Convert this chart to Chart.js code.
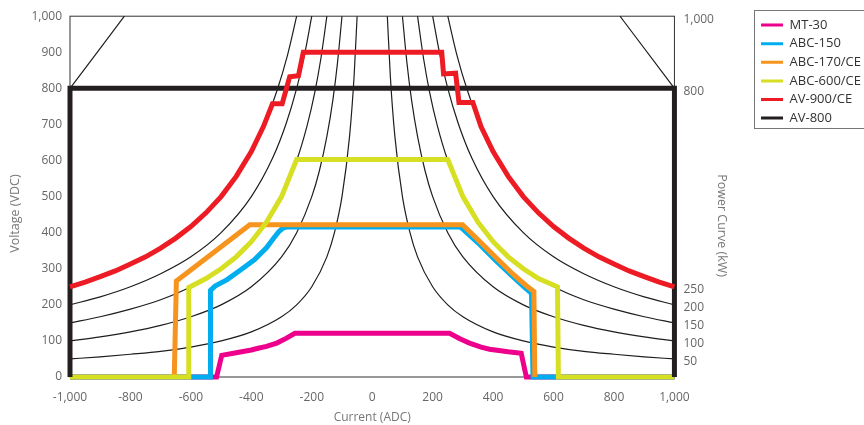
<!DOCTYPE html>
<html>
<head>
<meta charset="utf-8">
<script src="https://cdn.jsdelivr.net/npm/chart.js@4.4.1/dist/chart.umd.min.js"></script>
<style>
  html, body { margin: 0; padding: 0; background: #fff; overflow: hidden; }
  #wrap { width: 871px; height: 425px; }
</style>
</head>
<body>
<div id="wrap"><canvas id="chart"></canvas></div>
<script>
// tick labels
const currentTicks = [-1000, -800, -600, -400, -200, 0, 200, 400, 600, 800, 1000];
const voltageTicks = [0, 100, 200, 300, 400, 500, 600, 700, 800, 900, 1000];
const powerTicks = [50, 100, 150, 200, 250, 800, 1000];

const seriesNames = ['MT-30', 'ABC-150', 'ABC-170/CE', 'ABC-600/CE', 'AV-900/CE', 'AV-800'];

// operating envelopes, current (ADC) vs voltage (VDC)
const mt30Current = [-1000, -515, -498, -450, -400, -381, -350, -316, -285, -256, 256, 290, 322, 360, 388, 450, 493, 510, 1000];
const mt30Voltage = [0, 0, 60, 67, 75, 79, 85, 94, 107, 121, 121, 106, 94, 83, 77, 70, 66, 0, 0];

const abc150Current = [-1000, -535, -535, -520, -480, -430, -390, -350, -325, -308, -295, -280, 290, 300, 350, 405, 460, 505, 527, 532, 1000];
const abc150Voltage = [0, 0, 240, 252, 270, 300, 325, 358, 386, 404, 413, 416, 416, 410, 372, 326, 282, 248, 232, 0, 0];

const abc170Current = [-655, -648, -405, 299, 355, 411, 466, 510, 535, 538];
const abc170Voltage = [0, 266, 422, 422, 376, 330, 285, 253, 237, 0];

const abc600Current = [-1000, -607, -607, -550, -500, -450, -400, -350, -300, -250, 250, 300, 350, 400, 450, 500, 550, 613, 616, 1000];
const abc600Voltage = [0, 0, 248, 273, 300, 333, 375, 429, 500, 603, 603, 500, 429, 375, 333, 300, 273, 250, 0, 0];

const av900Current = [-1000, -950, -900, -850, -800, -750, -700, -650, -600, -550, -500, -450, -400, -360, -330, -298, -273, -244, -228,
  230, 236, 276, 287, 333, 360, 400, 450, 500, 550, 600, 650, 700, 750, 800, 850, 900, 950, 1000];
const av900Voltage = [250, 263, 278, 294, 313, 333, 357, 385, 417, 455, 500, 556, 625, 694, 757, 757, 832, 835, 900,
  900, 840, 842, 761, 761, 694, 625, 556, 500, 455, 417, 385, 357, 333, 313, 294, 278, 263, 250];

const av800Current = [-1000, -1000, 1000, 1000];
const av800Voltage = [0, 800, 800, 0];

// power curves (kW), right half; the left half is the same with negative current
const kw50Current = [50, 60, 75, 100, 125, 150, 200, 250, 300, 400, 500, 600, 700, 800, 900, 1000];
const kw50Voltage = [1000, 833, 667, 500, 400, 333, 250, 200, 167, 125, 100, 83, 71, 63, 56, 50];
const kw100Current = [100, 115, 130, 150, 175, 200, 250, 300, 400, 500, 600, 700, 800, 900, 1000];
const kw100Voltage = [1000, 870, 769, 667, 571, 500, 400, 333, 250, 200, 167, 143, 125, 111, 100];
const kw150Current = [150, 170, 190, 215, 250, 300, 350, 400, 500, 600, 700, 800, 900, 1000];
const kw150Voltage = [1000, 882, 789, 698, 600, 500, 429, 375, 300, 250, 214, 188, 167, 150];
const kw200Current = [200, 225, 250, 285, 330, 400, 500, 600, 700, 800, 900, 1000];
const kw200Voltage = [1000, 889, 800, 702, 606, 500, 400, 333, 286, 250, 222, 200];
const kw250Current = [250, 280, 315, 360, 420, 500, 600, 700, 800, 900, 1000];
const kw250Voltage = [1000, 893, 794, 694, 595, 500, 417, 357, 313, 278, 250];
const kw800Current = [820, 1000];
const kw800Voltage = [1000, 800];

const seriesColors = ['#ec008c', '#00aeef', '#f7941d', '#d7df23', '#ed1c24', '#231f20'];
const seriesLayer = [6, 5, 4, 3, 1, 2]; // lower is drawn on top

const FONT = '"Open Sans", "Noto Sans", sans-serif';

function points(xs, ys) {
  return xs.map((x, i) => ({ x: x, y: ys[i] }));
}

const series = [
  [mt30Current, mt30Voltage],
  [abc150Current, abc150Voltage],
  [abc170Current, abc170Voltage],
  [abc600Current, abc600Voltage],
  [av900Current, av900Voltage],
  [av800Current, av800Voltage],
];

const datasets = seriesNames.map((name, i) => ({
  label: name,
  data: points(series[i][0], series[i][1]),
  borderColor: seriesColors[i],
  backgroundColor: seriesColors[i],
  borderWidth: 5,
  tension: 0,
  order: seriesLayer[i],
  clip: 8,
}));

const powerCurves = [
  [kw50Current, kw50Voltage],
  [kw100Current, kw100Voltage],
  [kw150Current, kw150Voltage],
  [kw200Current, kw200Voltage],
  [kw250Current, kw250Voltage],
  [kw800Current, kw800Voltage],
];

function thinLine(data) {
  return {
    label: 'power',
    data: data,
    borderColor: '#1e1e1e',
    borderWidth: 1.2,
    cubicInterpolationMode: 'monotone',
    order: 10,
    clip: 2,
  };
}

powerCurves.forEach(([cur, volt]) => {
  datasets.push(thinLine(points(cur, volt)));
  datasets.push(thinLine(points(cur.map(c => -c), volt).reverse()));
});

function fixedTicks(values) {
  return scale => { scale.ticks = values.map(v => ({ value: v })); };
}

const framePlugin = {
  id: 'frame',
  beforeDatasetsDraw(chart) {
    const { ctx, chartArea: a } = chart;
    ctx.save();
    ctx.strokeStyle = '#333';
    ctx.lineWidth = 1;
    ctx.strokeRect(a.left, a.top, a.right - a.left, a.bottom - a.top);
    ctx.restore();
  }
};

const titlesPlugin = {
  id: 'sideTitles',
  afterDraw(chart) {
    const { ctx, chartArea: a } = chart;
    const mid = (a.top + a.bottom) / 2;
    ctx.save();
    ctx.font = '12.5px ' + FONT;
    ctx.fillStyle = '#777';
    ctx.textAlign = 'center';
    ctx.textBaseline = 'middle';
    ctx.save();
    ctx.translate(chart.scales.y.left + 15, mid + 17);
    ctx.rotate(-Math.PI / 2);
    ctx.fillText('Voltage (VDC)', 0, 0);
    ctx.restore();
    ctx.translate(chart.scales.y2.left + 47, mid + 29);
    ctx.rotate(Math.PI / 2);
    ctx.fillText('Power Curve (kW)', 0, 0);
    ctx.restore();

    // border round the legend
    const lg = chart.legend;
    const boxes = lg.legendHitBoxes;
    if (boxes.length) {
      const top = boxes[0].top - 9;
      const last = boxes[boxes.length - 1];
      ctx.save();
      ctx.strokeStyle = '#777';
      ctx.lineWidth = 1;
      ctx.strokeRect(Math.round(lg.left) - 0.5, Math.round(top) + 0.5, lg.width + 30, Math.round(last.top + last.height + 3 - top));
      ctx.restore();
    }
  }
};

const tickFont = { family: FONT, size: 12 };
const tickColor = '#666';

new Chart(document.getElementById('chart'), {
  type: 'line',
  data: { datasets: datasets },
  plugins: [framePlugin, titlesPlugin],
  options: {
    responsive: true,
    maintainAspectRatio: false,
    animation: false,
    layout: { padding: { top: 13, left: 0, right: 0, bottom: 0 } },
    elements: {
      point: { radius: 0 },
      line: { borderJoinStyle: 'miter', borderCapStyle: 'butt' }
    },
    scales: {
      x: {
        type: 'linear',
        min: -1000,
        max: 1000,
        afterBuildTicks: fixedTicks(currentTicks),
        afterFit: s => { s.height = 48; },
        grid: { display: false, drawTicks: false },
        border: { display: false },
        ticks: { padding: 13, color: tickColor, font: tickFont },
        title: { display: true, text: 'Current (ADC)', color: '#777', font: { family: FONT, size: 12 }, padding: { top: 2, bottom: 0 } }
      },
      y: {
        type: 'linear',
        position: 'left',
        min: 0,
        max: 1000,
        afterBuildTicks: fixedTicks(voltageTicks),
        afterFit: s => { s.width = 70; },
        grid: { display: false, drawTicks: false },
        border: { display: false },
        ticks: { padding: 8, color: tickColor, font: tickFont }
      },
      y2: {
        type: 'linear',
        position: 'right',
        min: 0,
        max: 1000,
        afterBuildTicks: fixedTicks(powerTicks),
        afterFit: s => { s.width = 81; },
        grid: { display: false, drawTicks: false },
        border: { display: false },
        ticks: { padding: 9, labelOffset: 3, color: tickColor, font: tickFont }
      }
    },
    plugins: {
      tooltip: { enabled: false },
      legend: {
        position: 'right',
        align: 'start',
        labels: {
          font: { family: FONT, size: 13 },
          color: '#333',
          padding: 5.6,
          usePointStyle: true,
          pointStyle: 'line',
          pointStyleWidth: 22,
          filter: item => seriesNames.includes(item.text),
          sort: (a, b) => a.datasetIndex - b.datasetIndex,
          generateLabels: chart => Chart.defaults.plugins.legend.labels.generateLabels(chart)
            .map(item => Object.assign(item, { lineWidth: 3 }))
        }
      }
    }
  }
});
</script>
</body>
</html>
